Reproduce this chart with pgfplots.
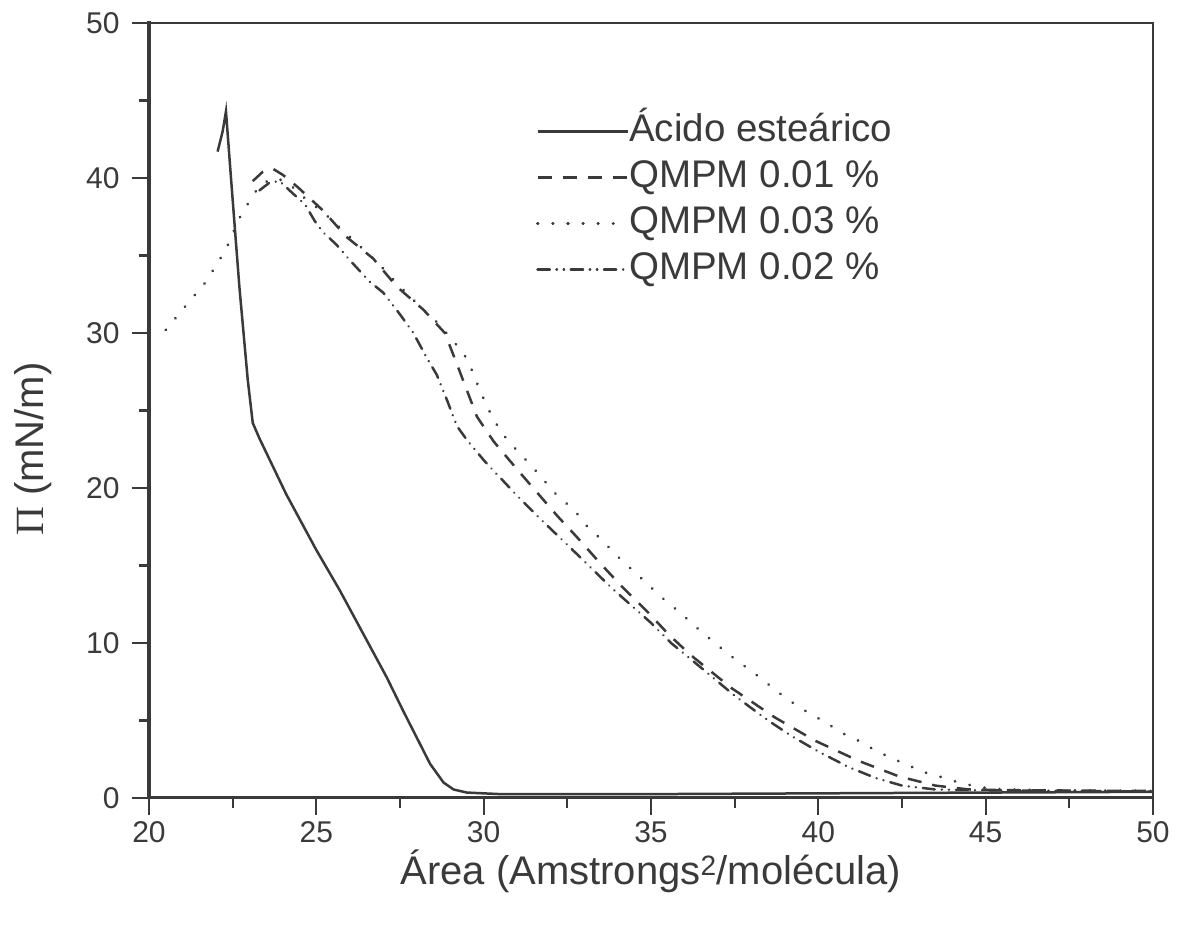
\documentclass[border=0pt]{standalone}
\usepackage{fontspec}
\setmainfont{Liberation Sans}
\newfontfamily\pifont{Liberation Serif}
\usepackage{pgfplots}
\pgfplotsset{compat=1.18}
\definecolor{ink}{RGB}{58,58,58}
\begin{document}
\begin{tikzpicture}
\path[use as bounding box] (-149pt,-127pt) rectangle (1028pt,798pt);
\begin{axis}[
  name=ax,
  at={(0pt,0pt)}, anchor=south west,
  scale only axis, width=1004pt, height=775pt,
  xmin=20, xmax=50, ymin=0, ymax=50,
  xtick={20,25,...,50}, ytick={0,10,...,50},
  minor x tick num=1, minor y tick num=1,
  tick pos=left, tick align=outside,
  major tick length=17pt, minor tick length=10pt,
  every tick/.style={ink, line width=2.2pt},
  axis line style={ink, line width=1.4pt},
  /pgf/number format/assume math mode=true,
  ticklabel style={font=\fontsize{30}{35}\selectfont, text=ink},
  yticklabel style={xshift=-9pt},
  xticklabel style={yshift=-3pt},
  xlabel={Área (Amstrongs\textsuperscript{2}/molécula)},
  ylabel={{\pifont Π} (mN/m)},
  label style={font=\fontsize{40}{46}\selectfont, text=ink},
  xlabel style={at={(axis description cs:0.5,-0.095)}, anchor=center},
  ylabel style={at={(axis description cs:-0.115,0.45)}, anchor=center},
  legend style={draw=none, fill=none, at={(axis description cs:0.3855,0.886)}, anchor=north west,
    font=\fontsize{38.5}{44}\selectfont, text=ink, inner sep=0pt, row sep=6pt,
    nodes={inner sep=0pt, text height=30pt, text depth=10pt, anchor=west}},
  legend cell align=left,
  legend image code/.code={\draw[#1] (0pt,0pt) -- (74pt,0pt); \path (0pt,0pt) -- (90pt,0pt);},
]
\addplot[ink, line width=2.5pt] table {
22.05 41.7
22.2 43.0
22.3 44.3
22.45 40.0
22.7 33.0
22.95 27.0
23.1 24.2
23.3 23.2
24.1 19.6
25.0 16.0
25.7 13.4
26.5 10.2
27.1 7.8
27.6 5.6
28.0 3.9
28.4 2.2
28.8 1.0
29.1 0.55
29.5 0.35
30.5 0.25
35 0.25
40 0.3
45 0.35
50 0.4
};
\addlegendentry{Ácido esteárico}
\addplot[ink, line width=2.5pt, dash pattern=on 14pt off 11pt] table {
23.1 39.8
23.4 40.4
23.7 40.6
24.0 40.2
24.45 39.4
25.2 37.9
25.9 36.2
26.7 34.8
27.4 33.0
28.2 31.5
28.84 30.0
29.2 28.0
29.5 26.3
29.8 24.6
30.3 23.0
31.0 21.2
31.6 19.7
32.2 18.2
32.8 16.8
33.5 15.1
34.15 13.6
34.9 12.0
35.55 10.5
36.2 9.2
37.4 7.1
38.7 5.2
39.9 3.7
41.2 2.4
42.4 1.4
43.5 0.8
44.5 0.55
46 0.5
50 0.45
};
\addlegendentry{QMPM 0.01 \%}
\addplot[ink, line width=3pt, line cap=round, dash pattern=on 0.1pt off 15pt] table {
20.5 30.2
21.0 31.5
21.7 33.3
22.3 35.4
22.7 37.4
23.0 38.5
23.3 39.5
23.7 40.0
24.1 39.8
24.6 38.8
25.3 37.6
26.0 36.2
26.8 34.6
27.5 33.0
28.2 31.5
28.7 30.5
29.0 29.7
29.4 28.7
29.65 27.6
29.85 26.5
30.05 25.5
30.3 24.4
30.6 23.4
31.0 22.4
31.4 21.5
31.8 20.5
32.2 19.5
32.7 18.6
33.1 17.5
33.55 16.6
34.0 15.6
34.5 14.6
34.95 13.7
35.4 12.8
35.9 11.9
36.36 11.0
36.8 10.2
37.3 9.3
37.8 8.5
38.3 7.7
38.75 6.9
39.2 6.2
39.7 5.5
40.2 4.9
40.7 4.2
41.2 3.7
41.6 3.2
42.15 2.6
42.6 2.2
43.1 1.7
43.6 1.4
44.2 1.0
44.8 0.7
45.5 0.55
47 0.5
50 0.45
};
\addlegendentry{QMPM 0.03 \%}
\addplot[ink, line width=2.5pt, line cap=round, dash pattern=on 12pt off 7pt on 0.1pt off 7pt on 0.1pt off 7pt] table {
23.3 39.2
23.6 39.7
23.9 39.8
24.3 39.0
24.66 38.3
24.96 37.2
25.2 36.5
25.6 35.7
26.0 34.7
26.6 33.3
27.0 32.6
27.5 31.2
27.9 30.0
28.3 28.4
28.6 27.3
28.9 25.7
29.2 24.0
29.5 23.1
30.0 21.8
31.0 19.5
31.6 18.2
32.66 16.0
33.85 13.5
35.0 11.3
35.6 10.0
36.5 8.4
37.5 6.6
38.5 5.0
39.2 4.0
40.0 3.0
40.9 2.0
41.7 1.3
42.5 0.8
43.5 0.55
45 0.5
50 0.42
};
\addlegendentry{QMPM 0.02 \%}
\end{axis}
\draw[ink, line width=3pt, line cap=rect] (ax.north west) -- (ax.south west) -- (ax.south east);
\end{tikzpicture}
\end{document}
